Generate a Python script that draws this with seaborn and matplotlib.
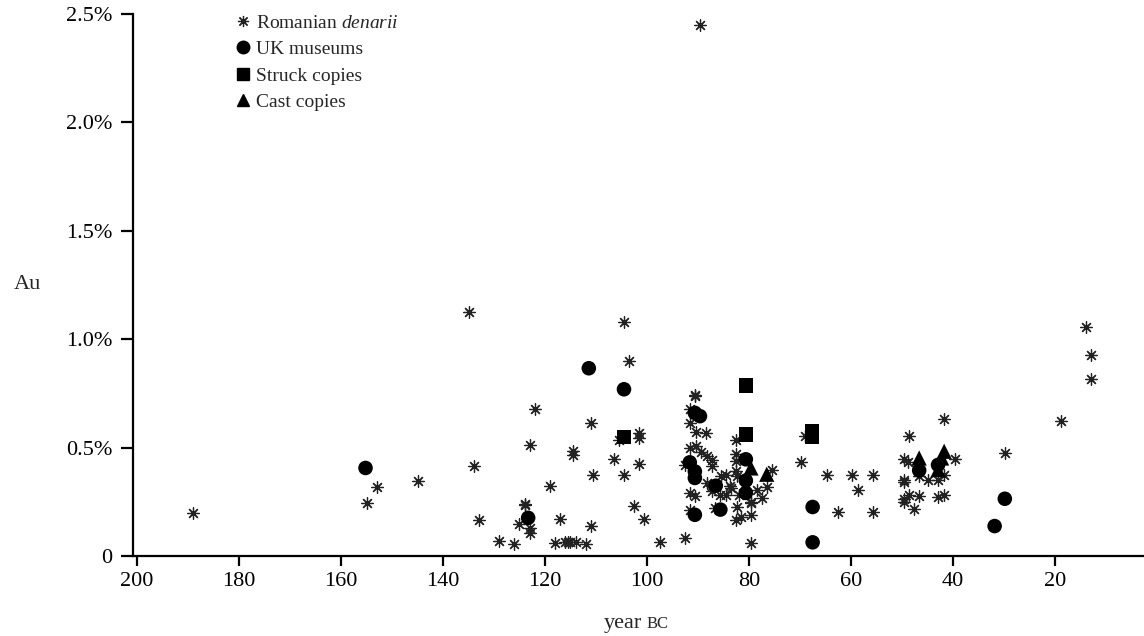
import matplotlib
matplotlib.use("Agg")
import matplotlib.pyplot as plt
from matplotlib.lines import Line2D
import seaborn as sns
import pandas as pd

# Romanian denarii (year BC, Au %)
ro_year = [189, 155, 153, 145, 135, 134, 133, 129, 126, 125, 124, 124, 123, 123, 123,
           122, 119, 118, 117, 116, 115.5, 115, 114.5, 114.5, 114, 112, 111, 111, 110.5,
           106.5, 105.5, 104.5, 104.5, 103.5, 102.5, 101.5, 101.5, 101.5, 100.5, 97.5,
           92.5, 92.5, 91.6, 91.6, 91.6, 91.6, 91.6, 90.5, 90.5, 90.4, 90.4, 90.6, 89.6,
           89.3, 88.5, 88.3, 88.3, 87.3, 87.3, 87.3, 87.3, 86.7, 85.7, 85.4, 84.4, 84.5,
           83.7, 83.6, 82.5, 82.5, 82.5, 82.5, 82.4, 82.0, 82.4, 82.5, 81.5, 79.5, 79.5,
           79.5, 79.6, 78.5, 77.5, 76.5, 75.5, 69.7, 69, 64.6, 62.5, 59.7, 58.6, 55.6,
           55.6, 49.6, 48.7, 48.5, 49.6, 49.6, 46.7, 44.9, 49.6, 49.6, 48.5, 46.7, 47.6,
           42.9, 41.7, 42.9, 41.7, 41.7, 39.6, 29.8, 18.8, 13.9, 12.8, 12.8]
ro_au = [0.20, 0.245, 0.32, 0.345, 1.125, 0.415, 0.167, 0.07, 0.055, 0.147, 0.24, 0.235,
         0.13, 0.105, 0.51, 0.68, 0.325, 0.06, 0.17, 0.063, 0.063, 0.063, 0.483, 0.465,
         0.063, 0.055, 0.615, 0.138, 0.375, 0.448, 0.537, 1.077, 0.375, 0.898, 0.23,
         0.568, 0.545, 0.423, 0.17, 0.063, 0.083, 0.421, 0.679, 0.614, 0.499, 0.29, 0.213,
         0.737, 0.742, 0.571, 0.506, 0.275, 2.45, 0.478, 0.565, 0.46, 0.337, 0.444, 0.413,
         0.321, 0.298, 0.221, 0.282, 0.367, 0.375, 0.282, 0.321, 0.313, 0.537, 0.472,
         0.437, 0.39, 0.367, 0.282, 0.228, 0.167, 0.182, 0.251, 0.244, 0.19, 0.06, 0.306,
         0.267, 0.318, 0.398, 0.435, 0.552, 0.375, 0.202, 0.372, 0.306, 0.372, 0.204,
         0.448, 0.435, 0.552, 0.349, 0.339, 0.367, 0.349, 0.262, 0.251, 0.282, 0.278,
         0.215, 0.349, 0.375, 0.272, 0.282, 0.633, 0.448, 0.475, 0.622, 1.057, 0.927, 0.815]

# UK museums
uk_year = [155.2, 123.3, 111.4, 104.5, 91.6, 90.6, 89.6, 90.6, 90.6, 90.6, 86.5, 85.6,
           80.6, 80.6, 80.6, 67.5, 67.5, 46.6, 42.9, 31.8, 29.8]
uk_au = [0.406, 0.176, 0.866, 0.769, 0.432, 0.66, 0.645, 0.39, 0.36, 0.19, 0.324, 0.214,
         0.446, 0.348, 0.291, 0.226, 0.063, 0.395, 0.42, 0.138, 0.264]

# Struck copies
struck_year = [104.5, 80.6, 80.6, 67.6, 67.6]
struck_au = [0.548, 0.787, 0.56, 0.575, 0.552]

# Cast copies
cast_year = [79.6, 76.5, 46.6, 41.7, 42.2, 42.9]
cast_au = [0.406, 0.377, 0.452, 0.483, 0.452, 0.398]

yticks = [0, 0.5, 1.0, 1.5, 2.0, 2.5]
ytick_labels = ["0", "0.5%", "1.0%", "1.5%", "2.0%", "2.5%"]
xticks = [200, 180, 160, 140, 120, 100, 80, 60, 40, 20]

sns.set_style("ticks")
plt.rcParams["font.family"] = ["Liberation Serif", "DejaVu Serif"]
plt.rcParams["mathtext.fontset"] = "custom"
plt.rcParams["mathtext.rm"] = "Liberation Serif"
plt.rcParams["mathtext.it"] = "Liberation Serif:italic"

ro = pd.DataFrame({"year": ro_year, "au": ro_au})
uk = pd.DataFrame({"year": uk_year, "au": uk_au})
st = pd.DataFrame({"year": struck_year, "au": struck_au})
ca = pd.DataFrame({"year": cast_year, "au": cast_au})

fig = plt.figure(figsize=(11.44, 6.36), dpi=100)
ax = fig.add_axes([0.1163, 0.1258, 0.8837, 0.8522])

star = (8, 2, 0)
sns.scatterplot(data=ro, x="year", y="au", marker=star, s=70, color="#222222",
                linewidth=0.9, ax=ax, legend=False)
sns.scatterplot(data=uk, x="year", y="au", marker="o", s=110, color="black",
                edgecolor="none", ax=ax, legend=False)
sns.scatterplot(data=st, x="year", y="au", marker="s", s=110, color="black",
                edgecolor="none", ax=ax, legend=False)
sns.scatterplot(data=ca, x="year", y="au", marker="^", s=120, color="black",
                edgecolor="none", ax=ax, legend=False)

ax.set_xlim(200.8, 2.5)
ax.set_ylim(0, 2.5)
ax.set_xticks(xticks)
ax.set_yticks(yticks)
ax.set_yticklabels(ytick_labels)
ax.tick_params(axis="both", labelsize=16, width=1.6, color="black", labelcolor="black")
ax.tick_params(axis="x", length=7.5, pad=4)
ax.tick_params(axis="y", length=9, pad=6)
for side in ["top", "right"]:
    ax.spines[side].set_visible(False)
for side in ["left", "bottom"]:
    ax.spines[side].set_linewidth(1.6)
    ax.spines[side].set_color("black")

ax.set_xlabel("")
ax.set_ylabel("Au", fontsize=16, rotation=0, labelpad=28, va="center")
fig.text(0.5615, 0.0126, "year", fontsize=16, ha="right", va="baseline")
fig.text(0.5655, 0.0126, "BC", fontsize=12, ha="left", va="baseline")

handles = [
    Line2D([], [], marker=star, color="#222222", linestyle="none", markersize=8,
           markeredgewidth=0.9),
    Line2D([], [], marker="o", color="black", linestyle="none", markersize=9),
    Line2D([], [], marker="s", color="black", linestyle="none", markersize=9),
    Line2D([], [], marker="^", color="black", linestyle="none", markersize=9),
]
labels = ["Romanian $\\it{denarii}$", "UK museums", "Struck copies", "Cast copies"]
fig.legend(handles, labels, loc="upper left", bbox_to_anchor=(0.197, 0.993),
           frameon=False, fontsize=14, handlelength=0.8, handletextpad=0.3,
           labelspacing=0.45, borderpad=0)

fig.savefig("out.png", dpi=100)
